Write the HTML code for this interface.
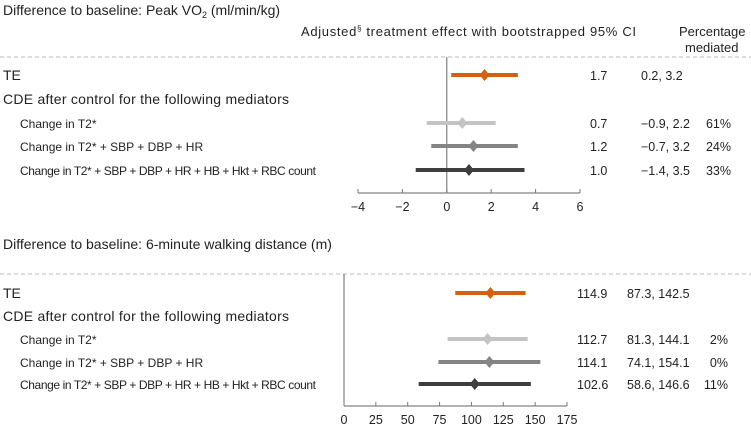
<!DOCTYPE html>
<html><head><meta charset="utf-8"><style>
body{margin:0;background:#fff}
svg{display:block;font-family:"Liberation Sans",sans-serif;fill:#222}
</style></head><body>
<svg id="c" width="751" height="428" viewBox="0 0 751 428">
<text x="3" y="15" font-size="14">Difference to baseline: Peak VO<tspan font-size="9" dy="3">2</tspan><tspan dy="-3"> (ml/min/kg)</tspan></text>
<text x="301" y="36" font-size="13" textLength="335">Adjusted<tspan font-size="8" dy="-5">§</tspan><tspan dy="5"> treatment effect with bootstrapped 95% CI</tspan></text>
<text x="679" y="36" font-size="13">Percentage</text>
<text x="685" y="52" font-size="13">mediated</text>
<text x="3" y="249" font-size="14">Difference to baseline: 6-minute walking distance (m)</text>
<g id="p1"></g>
<g id="p2"></g>
</svg>
<script>
const rowLabels=["TE","CDE after control for the following mediators","Change in T2*","Change in T2* + SBP + DBP + HR","Change in T2* + SBP + DBP + HR + HB + Hkt + RBC count"];
const seriesColors=["#d4600f",null,"#c4c4c4","#848484","#3e3e3e"];
const aEst=[1.7,null,0.7,1.2,1.0];
const aLo=[0.2,null,-0.9,-0.7,-1.4];
const aHi=[3.2,null,2.2,3.2,3.5];
const aPct=["",null,"61%","24%","33%"];
const aTicks=[-4,-2,0,2,4,6];
const bEst=[114.9,null,112.7,114.1,102.6];
const bLo=[87.3,null,81.3,74.1,58.6];
const bHi=[142.5,null,144.1,154.1,146.6];
const bPct=["",null,"2%","0%","11%"];
const bTicks=[0,25,50,75,100,125,150,175];
const NS="http://www.w3.org/2000/svg";
function mk(g,tag,at,txt){const e=document.createElementNS(NS,tag);for(const k in at)e.setAttribute(k,at[k]);if(txt!=null)e.textContent=txt;g.appendChild(e);return e;}
function fmt(v){const s=v.toFixed(1);return v<0?"\u2212"+s.slice(1):s;}
function panel(g,cfg){
  const x=v=>cfg.x0+(v-cfg.t0)*(cfg.x1-cfg.x0)/(cfg.t1-cfg.t0);
  let e=mk(g,"line",{x1:0,x2:751,y1:cfg.dash,y2:cfg.dash,stroke:"#bbb","stroke-dasharray":"4,3"});
  
  e=mk(g,"line",{x1:x(0),x2:x(0),y1:cfg.dash,y2:cfg.axisY,stroke:"#666","stroke-width":1});
  
  e=mk(g,"line",{x1:x(cfg.t0),x2:x(cfg.t1),y1:cfg.axisY,y2:cfg.axisY,stroke:"#999","stroke-width":1.5});
  
  cfg.ticks.forEach(t=>{
    const tk=mk(g,"line",{x1:x(t),x2:x(t),y1:cfg.axisY-4,y2:cfg.axisY,stroke:"#777"});
    
    const tl=mk(g,"text",{x:x(t),y:cfg.axisY+18,"font-size":12.5,"text-anchor":"middle"},t<0?"\u2212"+(-t):String(t));
    
  });
  rowLabels.forEach((lab,i)=>{
    const y=cfg.rows[i];
    const indent=i>=2;
    const t=mk(g,"text",{x:indent?20:3,y:y+5,"font-size":indent?12:14},lab);
    if(i==4)t.setAttribute("textLength","296");
    if(i==1)t.setAttribute("textLength","286");
    
    if(cfg.est[i]==null)return;
    const c=seriesColors[i];
    const b=mk(g,"line",{x1:x(cfg.lo[i]),x2:x(cfg.hi[i]),y1:y,y2:y,stroke:c,"stroke-width":4});
    
    const cx=x(cfg.est[i]);
    const d=mk(g,"polygon",{points:`${cx},${y-6} ${cx+5},${y} ${cx},${y+6} ${cx-5},${y}`,fill:c});
    
    const v=mk(g,"text",{x:cfg.vx,y:y+5,"font-size":12.5},fmt(cfg.est[i]));
    
    const ci=mk(g,"text",{x:cfg.cx,y:y+5,"font-size":12.5},fmt(cfg.lo[i])+", "+fmt(cfg.hi[i]));
    
    const p=mk(g,"text",{x:cfg.px,y:y+5,"font-size":12.5,"text-anchor":"end"},cfg.pct[i]);
    
  });
}
panel(document.getElementById("p1"),{x0:358,x1:580,t0:-4,t1:6,ticks:aTicks,est:aEst,lo:aLo,hi:aHi,pct:aPct,dash:57,axisY:193,rows:[75,99,123,146,170],vx:590,cx:641,px:731});
panel(document.getElementById("p2"),{x0:344,x1:567,t0:0,t1:175,ticks:bTicks,est:bEst,lo:bLo,hi:bHi,pct:bPct,dash:274,axisY:406,rows:[293,316,339,362,384],vx:577,cx:627,px:728});
</script>
</body></html>
